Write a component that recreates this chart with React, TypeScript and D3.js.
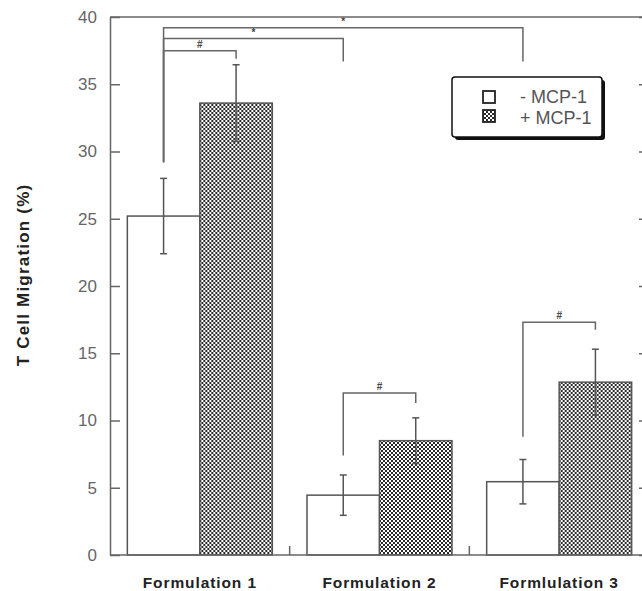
import { useEffect, useRef } from 'react';
import * as d3 from 'd3';

// chart data
const categories = ['Formulation 1', 'Formulation 2', 'Formlulation 3'];
const seriesKeys = ['- MCP-1', '+ MCP-1'];
const minusMean = [25.2, 4.45, 5.45];
const minusErr = [2.8, 1.5, 1.65];
const plusMean = [33.6, 8.5, 12.85];
const plusErr = [2.85, 1.7, 2.45];
const yTicks = [0, 5, 10, 15, 20, 25, 30, 35, 40];

// significance brackets: [cat, series] -> [cat, series], bar level, leg ends (in % units)
const brackets = [
  { from: [0, 0], to: [2, 0], level: 39.2, leftEnd: 29.2, rightEnd: 36.7, label: '*' },
  { from: [0, 0], to: [1, 0], level: 38.4, leftEnd: 29.2, rightEnd: 36.7, label: '*' },
  { from: [0, 0], to: [0, 1], level: 37.5, leftEnd: 29.2, rightEnd: 36.9, label: '#' },
  { from: [1, 0], to: [1, 1], level: 12.05, leftEnd: 7.4, rightEnd: 11.3, label: '#' },
  { from: [2, 0], to: [2, 1], level: 17.3, leftEnd: 8.8, rightEnd: 16.75, label: '#' },
];

const W = 642;
const H = 591;
const FONT = 'Liberation Sans, Arial, sans-serif';

export default function App() {
  const svgRef = useRef<SVGSVGElement | null>(null);

  useEffect(() => {
    if (!svgRef.current) return;
    const svg = d3.select(svgRef.current);
    svg.selectAll('*').remove();

    const left = 110;
    const right = 649;
    const top = 17;
    const bottom = 555;
    const ink = '#555';

    const y = d3.scaleLinear().domain([0, 40]).range([bottom, top]);
    const x = d3
      .scaleBand<string>()
      .domain(categories)
      .range([left, right])
      .paddingInner(0.193)
      .paddingOuter(0.0965);
    const xs = d3.scaleBand<string>().domain(seriesKeys).range([0, x.bandwidth()]);

    // hatch pattern
    const defs = svg.append('defs');
    const pat = defs
      .append('pattern')
      .attr('id', 'dots')
      .attr('patternUnits', 'userSpaceOnUse')
      .attr('width', 4)
      .attr('height', 4);
    pat.append('rect').attr('width', 4).attr('height', 4).attr('fill', '#fff');
    pat.append('rect').attr('x', 0).attr('y', 0).attr('width', 2).attr('height', 2).attr('fill', '#2a2a2a');
    pat.append('rect').attr('x', 2).attr('y', 2).attr('width', 2).attr('height', 2).attr('fill', '#2a2a2a');

    const rows = categories.map((c, i) => ({
      cat: c,
      vals: [
        { key: seriesKeys[0], v: minusMean[i], e: minusErr[i] },
        { key: seriesKeys[1], v: plusMean[i], e: plusErr[i] },
      ],
    }));

    const g = svg.append('g');

    // bars
    g.selectAll('g.cat')
      .data(rows)
      .join('g')
      .attr('class', 'cat')
      .attr('transform', (d) => `translate(${x(d.cat)},0)`)
      .selectAll('rect')
      .data((d) => d.vals)
      .join('rect')
      .attr('x', (d) => xs(d.key)!)
      .attr('y', (d) => y(d.v))
      .attr('width', xs.bandwidth())
      .attr('height', (d) => y(0) - y(d.v))
      .attr('fill', (d) => (d.key === seriesKeys[0] ? '#fff' : 'url(#dots)'))
      .attr('stroke', ink)
      .attr('stroke-width', 1.5);

    // error bars
    const errs = rows.flatMap((r) =>
      r.vals.map((d) => ({ cx: x(r.cat)! + xs(d.key)! + xs.bandwidth() / 2, lo: d.v - d.e, hi: d.v + d.e }))
    );
    const eb = g.append('g').attr('stroke', ink).attr('stroke-width', 1.5);
    errs.forEach((d) => {
      eb.append('line').attr('x1', d.cx).attr('x2', d.cx).attr('y1', y(d.lo)).attr('y2', y(d.hi));
      eb.append('line').attr('x1', d.cx - 3.5).attr('x2', d.cx + 3.5).attr('y1', y(d.lo)).attr('y2', y(d.lo));
      eb.append('line').attr('x1', d.cx - 3.5).attr('x2', d.cx + 3.5).attr('y1', y(d.hi)).attr('y2', y(d.hi));
    });

    // brackets
    const center = (p: number[]) => x(categories[p[0]])! + xs(seriesKeys[p[1]])! + xs.bandwidth() / 2;
    const br = g.append('g');
    brackets.forEach((b) => {
      const x1 = center(b.from);
      const x2 = center(b.to);
      br.append('path')
        .attr('d', `M${x1},${y(b.leftEnd)}V${y(b.level)}H${x2}V${y(b.rightEnd)}`)
        .attr('fill', 'none')
        .attr('stroke', '#666')
        .attr('stroke-width', 1.5);
      br.append('text')
        .attr('x', (x1 + x2) / 2)
        .attr('y', y(b.level) - 3)
        .attr('text-anchor', 'middle')
        .attr('font-family', FONT)
        .attr('font-size', 10)
        .attr('font-weight', 'bold')
        .attr('fill', '#444')
        .text(b.label);
    });

    // frame
    svg.append('line').attr('x1', left).attr('x2', right).attr('y1', top).attr('y2', top)
      .attr('stroke', '#666').attr('stroke-width', 1.5);

    // left axis, ticks inward
    const yAxis = svg
      .append('g')
      .attr('transform', `translate(${left},0)`)
      .call(d3.axisLeft(y).tickValues(yTicks).tickSizeInner(-10).tickSizeOuter(0).tickPadding(13) as any);
    yAxis.select('.domain').attr('stroke', '#666').attr('stroke-width', 1.5);
    yAxis.selectAll('.tick line').attr('stroke', '#666').attr('stroke-width', 1.5);
    yAxis
      .selectAll('.tick text')
      .attr('fill', '#666')
      .attr('font-size', 17)
      .attr('font-family', FONT);

    // right axis (mostly off-canvas)
    const rAxis = svg
      .append('g')
      .attr('transform', `translate(${right},0)`)
      .call(d3.axisRight(y).tickValues(yTicks).tickSizeInner(-10).tickSizeOuter(0).tickFormat(() => '') as any);
    rAxis.selectAll('line, path').attr('stroke', '#666').attr('stroke-width', 1.5);

    // bottom axis with category separators
    svg.append('line').attr('x1', left).attr('x2', right).attr('y1', bottom).attr('y2', bottom)
      .attr('stroke', '#666').attr('stroke-width', 1.5);
    const seps = categories.slice(1).map((c) => x(c)! - (x.step() - x.bandwidth()) / 2);
    svg.selectAll('line.sep')
      .data(seps)
      .join('line')
      .attr('class', 'sep')
      .attr('x1', (d) => d)
      .attr('x2', (d) => d)
      .attr('y1', bottom)
      .attr('y2', bottom - 9)
      .attr('stroke', '#666')
      .attr('stroke-width', 1.5);

    svg.selectAll('text.xlab')
      .data(categories)
      .join('text')
      .attr('class', 'xlab')
      .attr('x', (d) => x(d)! + x.bandwidth() / 2)
      .attr('y', 588)
      .attr('text-anchor', 'middle')
      .attr('font-family', FONT)
      .attr('font-weight', 'bold')
      .attr('font-size', 15.5)
      .attr('letter-spacing', 0.9)
      .attr('fill', '#222')
      .text((d) => d);

    // y label
    svg.append('text')
      .attr('transform', `translate(29,${275}) rotate(-90)`)
      .attr('text-anchor', 'middle')
      .attr('font-family', FONT)
      .attr('font-weight', 'bold')
      .attr('font-size', 17)
      .attr('letter-spacing', 1.2)
      .attr('fill', '#222')
      .text('T Cell Migration (%)');

    // legend
    const lg = svg.append('g').attr('transform', 'translate(452,77)');
    lg.append('rect').attr('x', 3).attr('y', 3).attr('width', 150).attr('height', 60).attr('rx', 3).attr('fill', '#111');
    lg.append('rect').attr('width', 150).attr('height', 60).attr('rx', 3)
      .attr('fill', '#fff').attr('stroke', '#111').attr('stroke-width', 1.5);
    seriesKeys.forEach((k, i) => {
      lg.append('rect')
        .attr('x', 31)
        .attr('y', 14 + i * 19)
        .attr('width', 12)
        .attr('height', 12)
        .attr('fill', i === 0 ? '#fff' : 'url(#dots)')
        .attr('stroke', '#222')
        .attr('stroke-width', 1.8);
      lg.append('text')
        .attr('x', 68)
        .attr('y', 26 + i * 21)
        .attr('font-family', FONT)
        .attr('font-size', 18)
        .attr('fill', '#555')
        .text(k);
    });
  }, []);

  return (
    <svg
      ref={svgRef}
      width={W}
      height={H}
      style={{ position: 'absolute', left: 0, top: 0, background: '#fff' }}
    />
  );
}
